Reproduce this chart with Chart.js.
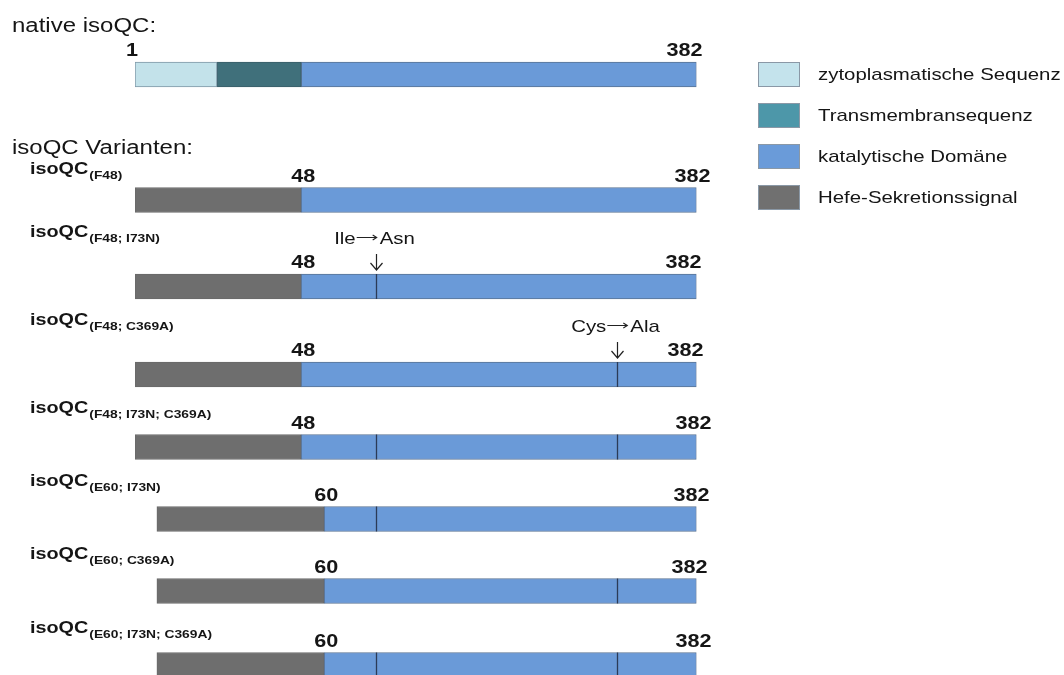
<!DOCTYPE html>
<html>
<head>
<meta charset="utf-8">
<script src="https://cdn.jsdelivr.net/npm/chart.js@4"></script>
<style>
  html, body { margin: 0; padding: 0; background: #fff; }
  canvas { display: block; }
</style>
</head>
<body>
<canvas id="isoqc" width="1064" height="675"></canvas>
<script>
"use strict";

// constructs, top to bottom
const variants = ['native', 'F48', 'F48; I73N', 'F48; C369A', 'F48; I73N; C369A',
                  'E60; I73N', 'E60; C369A', 'E60; I73N; C369A'];
const firstResidue = [1, 48, 48, 48, 48, 60, 60, 60];
const lastResidue = [382, 382, 382, 382, 382, 382, 382, 382];

// segment bounds in % of drawn length (the sketch is not to scale)
const cytoplasmic = [[0, 14.6], null, null, null, null, null, null, null];
const transmembrane = [[14.6, 29.6], null, null, null, null, null, null, null];
const catalytic = [[29.6, 100], [29.6, 100], [29.6, 100], [29.6, 100], [29.6, 100],
                   [33.7, 100], [33.7, 100], [33.7, 100]];
const secretion = [null, [0, 29.6], [0, 29.6], [0, 29.6], [0, 29.6],
                   [3.9, 33.7], [3.9, 33.7], [3.9, 33.7]];

const mutations = ['I73N', 'C369A'];
const mutationPos = [42.9, 85.8];
const mutationFrom = ['Ile', 'Cys'];
const mutationTo = ['Asn', 'Ala'];
const mutationLabelRow = [2, 3];

const legendLabels = ['zytoplasmatische Sequenz', 'Transmembransequenz', 'katalytische Domäne', 'Hefe-Sekretionssignal'];
const legendColors = ['#c4e3ec', '#4d97a9', '#6a9bd9', '#707070'];

// layout (pixels)
const rowY = [74.5, 200, 286.5, 374.5, 447, 519, 591, 665];
const nameY = [null, 174, 237, 325, 413, 486, 559, 633];
const endShift = [6, 14, 5, 7, 15, 13, 11, 15];
const BAR_H = 25;
const SX = 1.2; // the source figure is stretched sideways
const FONT = '"Liberation Sans", Arial, sans-serif';

function rows(arr) {
    const out = [];
    arr.forEach((seg, i) => { if (seg) out.push({ x: seg, y: rowY[i] }); });
    return out;
}

function txt(ctx, s, x, y, font, align) {
    ctx.save();
    ctx.font = font;
    ctx.textAlign = align || 'left';
    ctx.textBaseline = 'alphabetic';
    ctx.translate(x, y);
    ctx.scale(SX, 1);
    ctx.fillText(s, 0, 0);
    ctx.restore();
}

function txtWidth(ctx, s, font) {
    ctx.save();
    ctx.font = font;
    const w = ctx.measureText(s).width * SX;
    ctx.restore();
    return w;
}

const annotations = {
    id: 'annotations',
    afterDatasetsDraw(chart) {
        const ctx = chart.ctx;
        const xs = chart.scales.x;
        ctx.save();
        ctx.fillStyle = '#151515';

        txt(ctx, 'native isoQC:', 12, 32, '20px ' + FONT);
        txt(ctx, 'isoQC Varianten:', 12, 154, '20px ' + FONT);

        // mutation lines
        variants.forEach((v, i) => {
            mutations.forEach((m, k) => {
                if (v.split('; ').includes(m)) {
                    const px = Math.round(xs.getPixelForValue(mutationPos[k])) + 0.5;
                    ctx.strokeStyle = '#2b3b57';
                    ctx.lineWidth = 1.3;
                    ctx.beginPath();
                    ctx.moveTo(px, rowY[i] - BAR_H / 2);
                    ctx.lineTo(px, rowY[i] + BAR_H / 2);
                    ctx.stroke();
                }
            });
        });

        // residue numbers and names
        variants.forEach((v, i) => {
            const top = rowY[i] - BAR_H / 2;
            const base = top - 6;
            const bold = 'bold 18px ' + FONT;
            let startPx;
            if (i === 0) {
                startPx = xs.getPixelForValue(cytoplasmic[0][0]) - 3;
            } else {
                startPx = xs.getPixelForValue(catalytic[i][0]) + 2;
            }
            txt(ctx, String(firstResidue[i]), startPx, base, bold, 'center');
            txt(ctx, String(lastResidue[i]), xs.getPixelForValue(100) + endShift[i], base, bold, 'right');

            if (i > 0) {
                const f1 = 'bold 16.5px ' + FONT;
                const f2 = 'bold 11.5px ' + FONT;
                txt(ctx, 'isoQC', 30, nameY[i], f1);
                const w = txtWidth(ctx, 'isoQC', f1);
                txt(ctx, '(' + v + ')', 30 + w + 1, nameY[i] + 5, f2);
            }
        });

        // mutation callouts: "Xxx → Yyy" with a down arrow
        mutationLabelRow.forEach((r, k) => {
            const px = Math.round(xs.getPixelForValue(mutationPos[k])) + 0.5;
            const top = rowY[r] - BAR_H / 2;
            const f = '17px ' + FONT;
            const base = top - 30;
            const wa = txtWidth(ctx, mutationFrom[k], f);
            const wb = txtWidth(ctx, mutationTo[k], f);
            const arrowW = 20;
            const x0 = px - 2 - (wa + arrowW + wb + 4) / 2;
            txt(ctx, mutationFrom[k], x0, base, f);
            const ax0 = x0 + wa + 1;
            const ax1 = ax0 + arrowW;
            const ay = base - 6.5;
            ctx.strokeStyle = '#222';
            ctx.lineWidth = 1.1;
            ctx.beginPath();
            ctx.moveTo(ax0, ay);
            ctx.lineTo(ax1, ay);
            ctx.moveTo(ax1 - 4, ay - 2.5);
            ctx.lineTo(ax1, ay);
            ctx.lineTo(ax1 - 4, ay + 2.5);
            ctx.stroke();
            txt(ctx, mutationTo[k], ax1 + 3, base, f);

            ctx.lineWidth = 1.2;
            ctx.beginPath();
            ctx.moveTo(px, top - 20);
            ctx.lineTo(px, top - 4);
            ctx.moveTo(px - 6, top - 11);
            ctx.lineTo(px, top - 4);
            ctx.lineTo(px + 6, top - 11);
            ctx.stroke();
        });

        // legend
        legendLabels.forEach((lab, i) => {
            const y = 62 + i * 41;
            ctx.fillStyle = legendColors[i];
            ctx.fillRect(758, y, 42, 25);
            ctx.strokeStyle = '#8a98a6';
            ctx.lineWidth = 1;
            ctx.strokeRect(758.5, y + 0.5, 41, 24);
            ctx.fillStyle = '#151515';
            txt(ctx, lab, 818, y + 18, '17px ' + FONT);
        });

        ctx.restore();
    }
};

const common = {
    barThickness: BAR_H,
    grouped: false,
    borderWidth: 1,
    borderSkipped: false
};

new Chart(document.getElementById('isoqc'), {
    type: 'bar',
    data: {
        datasets: [
            Object.assign({ label: legendLabels[0], data: rows(cytoplasmic), backgroundColor: '#c3e2ea', borderColor: '#7f97a6' }, common),
            Object.assign({ label: legendLabels[1], data: rows(transmembrane), backgroundColor: '#40707b', borderColor: '#3a5e68' }, common),
            Object.assign({ label: legendLabels[2], data: rows(catalytic), backgroundColor: '#6a9ad8', borderColor: '#5a7394' }, common),
            Object.assign({ label: legendLabels[3], data: rows(secretion), backgroundColor: '#6e6e6e', borderColor: '#6a6a6a' }, common)
        ]
    },
    options: {
        indexAxis: 'y',
        responsive: false,
        animation: false,
        layout: { padding: { left: 135, right: 367.5, top: 0, bottom: 0 } },
        scales: {
            x: { type: 'linear', min: 0, max: 100, display: false },
            y: { type: 'linear', min: 0, max: 675, reverse: true, offset: false, display: false }
        },
        plugins: {
            legend: { display: false },
            tooltip: { enabled: false }
        }
    },
    plugins: [annotations]
});
</script>
</body>
</html>
